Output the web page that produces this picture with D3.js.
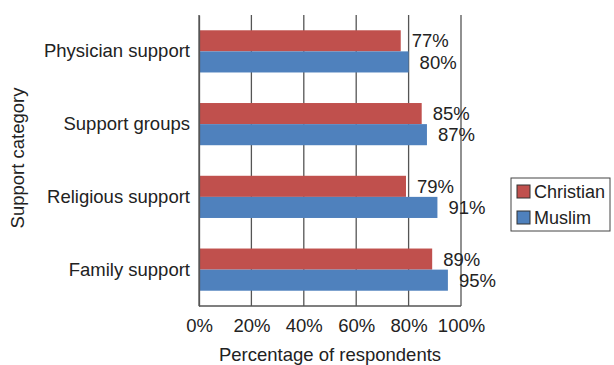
<!DOCTYPE html>
<html><head><meta charset="utf-8">
<script src="https://cdn.jsdelivr.net/npm/d3@7"></script>
<style>body{margin:0;background:#fff}text{font-family:"Liberation Sans",Arial,sans-serif;fill:#222}</style>
</head><body><svg id="c" width="614" height="365"></svg>
<script>
const categories = ["Physician support","Support groups","Religious support","Family support"];
const christian = [77,85,79,89];
const muslim = [80,87,91,95];
const seriesNames = ["Christian","Muslim"];
const colors = ["#C0504D","#4F81BD"];
const xTicks = [0,20,40,60,80,100];
const FS = 18.5;

const svg = d3.select("#c");
const x = d3.scaleLinear().domain([0,100]).range([199,461]);
const y = d3.scaleBand().domain(categories).range([15,306]).paddingInner(0.42).paddingOuter(0.21);
const sub = d3.scaleBand().domain(seriesNames).range([0,y.bandwidth()]);

// grid lines
svg.append("g").selectAll("line").data(xTicks).join("line")
  .attr("x1",d=>x(d)).attr("x2",d=>x(d)).attr("y1",15).attr("y2",306)
  .attr("stroke","#555").attr("stroke-width",1.3);
svg.append("line").attr("x1",x(0)).attr("x2",x(100)).attr("y1",306).attr("y2",306)
  .attr("stroke","#555").attr("stroke-width",1.3);

const data = categories.map((c,i)=>({c, vals:[christian[i],muslim[i]]}));
const g = svg.append("g").selectAll("g").data(data).join("g")
  .attr("transform",d=>`translate(0,${y(d.c)})`);
g.selectAll("rect").data(d=>d.vals.map((v,j)=>({v,s:seriesNames[j],j}))).join("rect")
  .attr("x",x(0)).attr("y",d=>sub(d.s)).attr("width",d=>x(d.v)-x(0)).attr("height",sub.bandwidth())
  .attr("fill",d=>colors[d.j]);
g.selectAll("text.v").data(d=>d.vals.map((v,j)=>({v,s:seriesNames[j],j}))).join("text")
  .attr("class","v").attr("x",d=>x(d.v)+11).attr("y",d=>sub(d.s)+sub.bandwidth()/2)
  .attr("dy","0.36em").attr("font-size",FS).text(d=>d.v+"%");

// y axis
const ya = svg.append("g").attr("transform",`translate(${x(0)},0)`)
  .call(d3.axisLeft(y).tickSize(0).tickPadding(9));
ya.select(".domain").attr("stroke","#555").attr("stroke-width",1.3);
ya.selectAll("text").attr("font-size",FS).attr("font-family","Liberation Sans, Arial, sans-serif").attr("fill","#222");

// x axis
const xa = svg.append("g").attr("transform","translate(0,306)")
  .call(d3.axisBottom(x).tickValues(xTicks).tickFormat(d=>d+"%").tickSize(0).tickPadding(13));
xa.select(".domain").remove();
xa.selectAll("text").attr("font-size",FS).attr("font-family","Liberation Sans, Arial, sans-serif").attr("fill","#222");

svg.append("text").attr("x",330).attr("y",361).attr("text-anchor","middle").attr("font-size",FS).text("Percentage of respondents");
svg.append("text").attr("transform","translate(24,158) rotate(-90)").attr("text-anchor","middle").attr("font-size",FS).text("Support category");

// legend
const lg = svg.append("g");
lg.append("rect").attr("x",511).attr("y",178).attr("width",99).attr("height",53)
  .attr("fill","#fff").attr("stroke","#444").attr("stroke-width",1);
seriesNames.forEach((s,i)=>{
  lg.append("rect").attr("x",517).attr("y",185+i*26).attr("width",13).attr("height",13)
    .attr("fill",colors[i]).attr("stroke","#333").attr("stroke-width",1);
  lg.append("text").attr("x",534).attr("y",191.5+i*26).attr("dy","0.36em").attr("font-size",18).text(s);
});
</script></body></html>
